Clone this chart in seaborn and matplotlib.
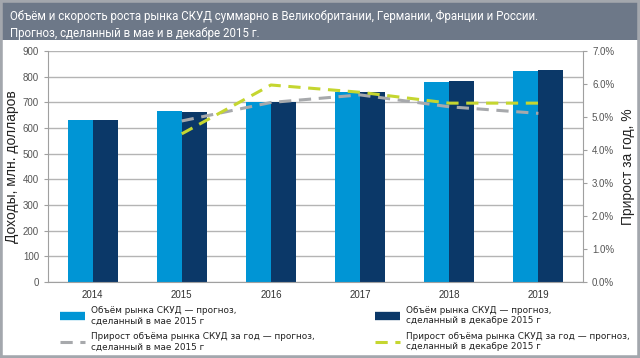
import matplotlib
matplotlib.use("Agg")
import matplotlib.pyplot as plt
import seaborn as sns
import pandas as pd
import numpy as np
from matplotlib.lines import Line2D
from matplotlib.patches import Rectangle
from matplotlib.ticker import PercentFormatter

years = ["2014", "2015", "2016", "2017", "2018", "2019"]
rev_may = [633, 666, 700, 742, 780, 822]
rev_dec = [633, 663, 703, 742, 784, 826]

growth_years = ["2015", "2016", "2017", "2018", "2019"]
growth_may = [4.88, 5.44, 5.67, 5.31, 5.11]
growth_dec = [4.49, 5.97, 5.75, 5.42, 5.42]

lbl_bar_may = "Объём рынка СКУД — прогноз,\nсделанный в мае 2015 г"
lbl_bar_dec = "Объём рынка СКУД — прогноз,\nсделанный в декабре 2015 г"
lbl_line_may = "Прирост объёма рынка СКУД за год — прогноз,\nсделанный в мае 2015 г"
lbl_line_dec = "Прирост объёма рынка СКУД за год — прогноз,\nсделанный в декабре 2015 г"

c_light = "#0095d5"
c_dark = "#0b3868"
c_grey = "#a7a9ac"
c_green = "#c5d630"

df = pd.DataFrame({
    "year": years * 2,
    "value": rev_may + rev_dec,
    "forecast": ["may"] * len(years) + ["dec"] * len(years),
})

sns.set_style("white")
plt.rcParams["font.family"] = ["Liberation Sans", "DejaVu Sans"]

fig = plt.figure(figsize=(6.4, 3.58), dpi=100)
ax = fig.add_axes([48 / 640, 1 - 282 / 358, 535 / 640, 231 / 358])

sns.barplot(data=df, x="year", y="value", hue="forecast", order=years,
            hue_order=["may", "dec"], palette=[c_light, c_dark],
            width=0.56, saturation=1, linewidth=0, ax=ax, legend=False)

ax.set_ylim(0, 900)
ax.set_yticks(range(0, 901, 100))
ax.set_axisbelow(True)
ax.yaxis.grid(True, color="#b4b4b4", linewidth=1)
ax.set_xlabel("")
ax.set_ylabel("Доходы, млн. долларов", fontsize=10, color="#222222")
ax.yaxis.set_label_coords(-29 / 535, 0.5)
ax.tick_params(axis="y", labelsize=7, colors="#555555", length=3, width=0.8,
               direction="out", left=True)
ax.tick_params(axis="y", color="#a0a0a0")
ax.tick_params(axis="x", labelsize=7, labelcolor="#333333", length=0, pad=6)
for s in ["left", "right", "bottom"]:
    ax.spines[s].set_color("#a0a0a0")
    ax.spines[s].set_linewidth(0.8)
ax.spines["top"].set_visible(False)

ax2 = ax.twinx()
gx = [years.index(y) for y in growth_years]
sns.lineplot(x=gx, y=growth_may, ax=ax2, color=c_grey, linewidth=2.2,
             linestyle=(0, (4, 2.5)))
sns.lineplot(x=gx, y=growth_dec, ax=ax2, color=c_green, linewidth=2.2,
             linestyle=(0, (4, 2.5)))
ax2.set_ylim(0, 7)
ax2.set_yticks(np.arange(0, 7.01, 1))
ax2.yaxis.set_major_formatter(PercentFormatter(decimals=1))
ax2.set_ylabel("Прирост за год, %", fontsize=10, color="#222222")
ax2.yaxis.set_label_coords(1 + 38 / 535, 0.5)
ax2.tick_params(axis="y", labelsize=7, labelcolor="#555555", color="#a0a0a0",
                length=3, width=0.8, direction="out", right=True)
for s in ["left", "right", "bottom", "top"]:
    ax2.spines[s].set_visible(False)
ax.set_xlim(-0.5, len(years) - 0.5)

# category boundary ticks on the x axis
ax.set_xticks(np.arange(-0.5, len(years), 1), minor=True)
ax.tick_params(axis="x", which="minor", length=3, color="#a0a0a0", width=0.8)

# title bar and frame
fig.patches.append(Rectangle((0, 1 - 40 / 358), 1, 40 / 358, transform=fig.transFigure,
                             facecolor="#6d7888", edgecolor="none", zorder=0))
fig.patches.append(Rectangle((0, 0), 1, 1, transform=fig.transFigure, fill=False,
                             edgecolor="#a3a7ad", linewidth=4, zorder=5))
fig.text(10 / 640, 1 - 16 / 358, "Объём и скорость роста рынка СКУД суммарно в "
         "Великобритании, Германии, Франции и России.",
         color="white", fontsize=8.3, va="center", ha="left", family="Roboto")
fig.text(10 / 640, 1 - 33 / 358, "Прогноз, сделанный в мае и в декабре 2015 г.",
         color="white", fontsize=8.3, va="center", ha="left", family="Roboto")

h_may = [Line2D([], [], color=c_light, linewidth=6, solid_capstyle="butt"),
         Line2D([], [], color=c_grey, linewidth=2.2, linestyle=(0, (4, 2.5)))]
h_dec = [Line2D([], [], color=c_dark, linewidth=6, solid_capstyle="butt"),
         Line2D([], [], color=c_green, linewidth=2.2, linestyle=(0, (4, 2.5)))]
leg_kw = dict(loc="upper left", frameon=False, borderpad=0, borderaxespad=0,
              handlelength=2.8, handletextpad=0.7, labelspacing=0.75,
              prop={"family": "DejaVu Sans", "size": 6.4}, labelcolor="#222222")
fig.legend(h_may, [lbl_bar_may, lbl_line_may], bbox_to_anchor=(60 / 640, 1 - 306 / 358),
           **leg_kw)
fig.legend(h_dec, [lbl_bar_dec, lbl_line_dec], bbox_to_anchor=(375 / 640, 1 - 306 / 358),
           **leg_kw)

fig.savefig("out.png", dpi=100)
